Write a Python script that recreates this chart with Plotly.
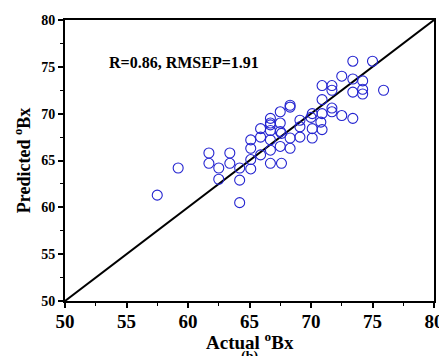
import plotly.graph_objects as go

actual = [57.5, 59.2, 61.7, 61.7, 62.5, 62.5, 63.4, 63.4, 64.2, 64.2, 64.2,
          65.1, 65.1, 65.1, 65.1, 65.9, 65.9, 65.9,
          66.7, 66.7, 66.7, 66.7, 66.7, 66.7, 66.7,
          67.5, 67.5, 67.5, 67.5, 67.6, 67.6,
          68.3, 68.3, 68.3, 68.3,
          69.1, 69.1, 69.1,
          70.0, 70.1, 70.1, 70.1,
          70.8, 70.9, 70.9, 70.9, 70.9,
          71.7, 71.7, 71.7, 71.7,
          72.5, 72.5, 73.4, 73.4, 73.4, 73.4,
          74.2, 74.2, 74.2, 75.0, 75.9]
predicted = [61.3, 64.2, 65.8, 64.7, 64.2, 63.0, 65.8, 64.7, 64.2, 62.9, 60.5,
             67.2, 66.3, 65.1, 64.1, 68.4, 67.5, 65.6,
             69.5, 69.0, 68.2, 67.2, 66.1, 64.7, 68.8,
             70.2, 69.0, 68.1, 66.5, 64.7, 67.9,
             70.9, 70.7, 67.4, 66.3,
             69.3, 68.6, 67.5,
             69.6, 68.4, 67.4, 70.0,
             69.1, 68.3, 70.0, 71.5, 73.0,
             73.0, 72.5, 70.6, 70.2,
             74.0, 69.8, 75.6, 73.7, 72.3, 69.5,
             73.5, 72.6, 72.1, 75.6, 72.5]
diag = [50, 80]

x_ticks = [50, 55, 60, 65, 70, 75, 80]
y_ticks = [50, 55, 60, 65, 70, 75, 80]

serif = "Liberation Serif, Times New Roman, serif"

fig = go.Figure()
fig.add_trace(go.Scatter(x=diag, y=diag, mode="lines",
                         line=dict(color="black", width=2), showlegend=False))
fig.add_trace(go.Scatter(x=actual, y=predicted, mode="markers",
                         marker=dict(symbol="circle-open", size=10,
                                     color="#2424d0", line=dict(width=1.1)),
                         showlegend=False))

fig.add_annotation(x=0.115, y=0.85, xref="paper", yref="paper",
                   text="R=0.86, RMSEP=1.91", showarrow=False,
                   xanchor="left", yanchor="middle",
                   font=dict(family=serif, size=16, color="black", weight="bold"))
# x-axis title placed as annotation for precise position
fig.add_annotation(x=0.5, y=-0.142, xref="paper", yref="paper",
                   text="Actual <sup>o</sup>Bx", showarrow=False,
                   xanchor="center", yanchor="middle",
                   font=dict(family=serif, size=19, color="black", weight="bold"))
fig.add_annotation(x=0.5, y=-0.163, xref="paper", yref="paper",
                   text="(b)", showarrow=False, xanchor="center", yanchor="top",
                   font=dict(family=serif, size=14, color="black", weight="bold"))

axis_common = dict(showgrid=False, zeroline=False, showline=True, linecolor="black",
                   linewidth=2, mirror=True, ticks="outside", ticklen=5,
                   tickwidth=1.5, tickcolor="black", ticklabeloverflow="allow",
                   automargin=False,
                   minor=dict(ticks="outside", ticklen=3, tickwidth=1.2,
                              tickcolor="black", dtick=2.5))

fig.update_xaxes(range=[50, 80], tickvals=x_ticks, ticklabelstandoff=-3,
                 tickfont=dict(family=serif, size=19, color="black", weight="bold"),
                 **axis_common)
fig.update_yaxes(range=[50, 80], tickvals=y_ticks,
                 tickfont=dict(family=serif, size=14, color="black", weight="bold"),
                 title=dict(text="Predicted <sup>o</sup>Bx", standoff=6,
                            font=dict(family=serif, size=18, color="black", weight="bold")),
                 **axis_common)

fig.update_layout(width=439, height=356, margin=dict(l=65, r=5, t=20, b=55),
                  plot_bgcolor="white", paper_bgcolor="white")

fig.write_html("out.html", config={"displayModeBar": False},
               post_script="document.body.style.margin='0';document.body.style.overflow='hidden';")
